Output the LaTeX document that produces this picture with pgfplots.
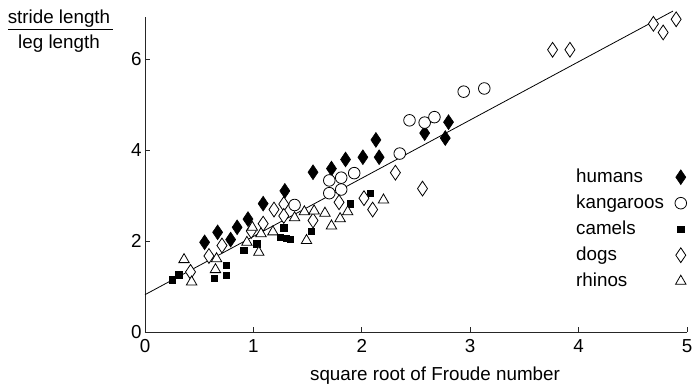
\documentclass[border=0pt]{standalone}
\usepackage{pgfplots}
\pgfplotsset{compat=1.18}
\usepackage{fontspec}
\setmainfont{Liberation Sans}
\begin{document}
\begin{tikzpicture}[font=\fontsize{18.8}{22}\selectfont]
\begin{axis}[
  scale only axis, width=542pt, height=315pt,
  xmin=0, xmax=5, ymin=0, ymax=6.92,
  clip=false,
  axis x line=bottom, axis y line=left,
  axis line style={-, line width=0.7pt, black!85},
  xtick={0,1,2,3,4,5}, ytick={0,2,4,6},
  tick align=inside, major tick length=5pt,
  tick style={line width=0.7pt, black!85},
  /pgf/number format/assume math mode=true,
  xticklabel style={yshift=-4pt},
  legend plot pos=right,
  legend cell align=left,
  legend style={at={(0.7915,0.527)}, anchor=north west, draw=none, fill=none,
    inner sep=0pt, row sep=4pt, column sep=9pt,
    nodes={inner sep=2pt, text height=14pt, text depth=4pt},
    font=\fontsize{18.8}{22}\selectfont},
]
\addplot[black, line width=0.8pt, no marks, forget plot] coordinates {(0,0.82) (4.87,7.05)};
% humans
\addplot[only marks, mark=diamond*, mark size=7.4pt, mark options={xscale=0.9, fill=black, draw=black, line width=0.6pt}] coordinates {
(0.55,1.97)(0.67,2.19)(0.79,2.03)(0.85,2.30)(0.95,2.48)(1.09,2.82)(1.29,3.10)(1.55,3.51)(1.72,3.59)(1.85,3.79)(2.01,3.84)(2.16,3.84)(2.13,4.22)(2.58,4.37)(2.77,4.26)(2.80,4.61)};
\addlegendentry{humans}
% kangaroos
\addplot[only marks, mark=*, mark size=5.8pt, mark options={fill=white, draw=black, line width=0.8pt}] coordinates {
(1.38,2.79)(1.70,3.05)(1.70,3.33)(1.81,3.13)(1.81,3.39)(1.93,3.49)(2.35,3.92)(2.44,4.65)(2.58,4.60)(2.67,4.72)(2.94,5.28)(3.13,5.35)};
\addlegendentry{kangaroos}
% camels
\addplot[only marks, mark=square*, mark size=3.1pt, mark options={fill=black, draw=black}] coordinates {
(0.25,1.15)(0.31,1.26)(0.64,1.19)(0.75,1.46)(0.75,1.24)(0.91,1.79)(1.03,1.94)(1.28,2.29)(1.25,2.09)(1.30,2.06)(1.34,2.03)(1.53,2.21)(1.89,2.82)(2.08,3.05)};
\addlegendentry{camels}
% dogs
\addplot[only marks, mark=diamond*, mark size=7.4pt, mark options={xscale=0.9, fill=white, draw=black, line width=0.8pt}] coordinates {
(0.42,1.32)(0.59,1.67)(0.71,1.90)(0.98,2.22)(1.09,2.38)(1.19,2.69)(1.28,2.81)(1.28,2.55)(1.55,2.45)(1.79,2.85)(2.02,2.94)(2.10,2.69)(2.31,3.50)(2.56,3.15)(3.76,6.20)(3.92,6.20)(4.69,6.77)(4.78,6.58)(4.90,6.87)};
\addlegendentry{dogs}
% rhinos
\addplot[only marks, mark=triangle*, mark size=6pt, mark options={fill=white, draw=black, line width=0.8pt}] coordinates {
(0.36,1.59)(0.43,1.10)(0.65,1.37)(0.66,1.61)(0.94,1.97)(1.05,1.75)(0.99,2.30)(1.07,2.16)(1.18,2.20)(1.38,2.51)(1.47,2.64)(1.49,2.01)(1.56,2.66)(1.66,2.61)(1.72,2.33)(1.80,2.49)(1.87,2.64)(2.20,2.90)};
\addlegendentry{rhinos}
\end{axis}
\node[anchor=base, inner sep=0pt] at (-86pt,308pt) {stride length};
\draw[line width=1pt] (-137pt,302.7pt) -- (-32pt,302.7pt);
\node[anchor=base, inner sep=0pt] at (-86pt,283pt) {leg length};
\node[anchor=base, inner sep=0pt] at (290pt,-48pt) {square root of Froude number};
\pgfresetboundingbox
\path[use as bounding box] (-145pt,-56pt) rectangle (548pt,332pt);
\end{tikzpicture}
\end{document}
